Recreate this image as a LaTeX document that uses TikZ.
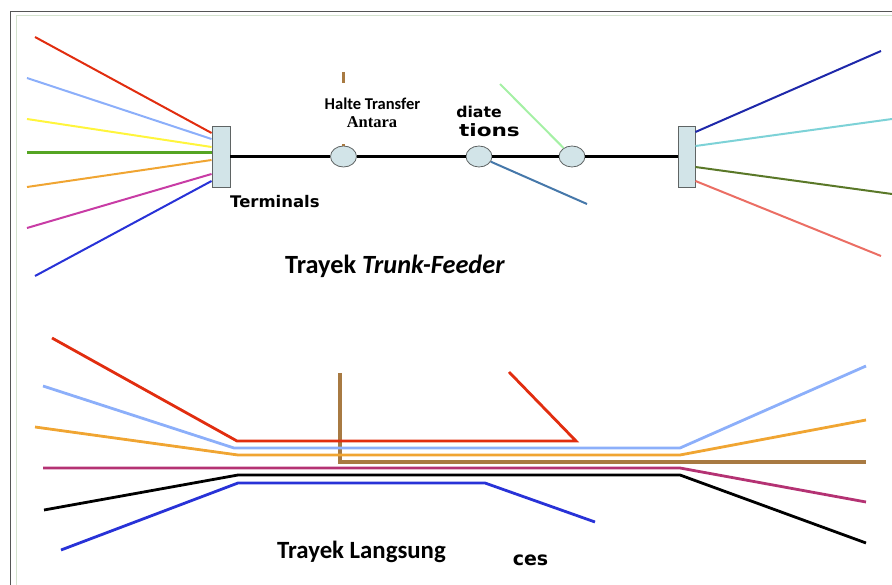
\documentclass[tikz,border=0pt]{standalone}
\usepackage{fontspec}
\usepackage{graphicx}
\setmainfont{Carlito}
\newfontfamily\dejav{DejaVu Sans}
\newfontfamily\serf{Liberation Serif}
\usetikzlibrary{shapes.geometric}
\definecolor{cRed}{RGB}{225,45,15}
\definecolor{cLBlue}{RGB}{140,175,250}
\definecolor{cYellow}{RGB}{255,245,60}
\definecolor{cGreen}{RGB}{85,165,35}
\definecolor{cOrange}{RGB}{240,165,50}
\definecolor{cMag}{RGB}{200,60,165}
\definecolor{cBlue}{RGB}{40,50,215}
\definecolor{cNavy}{RGB}{30,40,170}
\definecolor{cCyan}{RGB}{125,210,215}
\definecolor{cOlive}{RGB}{90,120,40}
\definecolor{cSalmon}{RGB}{235,110,100}
\definecolor{cLGreen}{RGB}{165,240,165}
\definecolor{cSteel}{RGB}{70,120,170}
\definecolor{colTan}{RGB}{168,122,66}
\definecolor{cWine}{RGB}{180,50,115}
\definecolor{cFill}{RGB}{210,228,232}
\definecolor{cEdge}{RGB}{95,100,100}
\definecolor{cFrame}{RGB}{85,85,85}
\definecolor{cFrameIn}{RGB}{212,226,206}
\begin{document}
\begin{tikzpicture}[x=1pt,y=-1pt,
  feeder/.style={line width=2pt},
  route/.style={line width=2.8pt, line join=miter},
  tanroute/.style={draw=colTan, line width=3.4pt, line join=miter},
  station/.style={ellipse, draw=cEdge, fill=cFill, line width=0.8pt, minimum width=26pt, minimum height=21pt, inner sep=0pt},
  terminal/.style={rectangle, draw=cEdge, fill=cFill, line width=0.9pt, minimum width=18pt, minimum height=61pt, inner sep=0pt},
  lbl/.style={inner sep=0pt}]
\useasboundingbox (0,0) rectangle (892,585);
% frame
\draw[cFrame, line width=1pt] (10.5,585) -- (10.5,12) -- (892,12);
\draw[cFrameIn, line width=1.3pt] (16.5,585) -- (16.5,15.5) -- (892,15.5);
% top: trunk-feeder
\node[terminal] (tL) at (221,156.5) {};
\node[terminal, minimum width=17pt] (tR) at (686.5,156.5) {};
\node[station] (s1) at (343.5,156.5) {};
\node[station] (s2) at (479,156.5) {};
\node[station] (s3) at (572,156.5) {};
\draw[line width=2.2pt] (tL.east) -- (s1) -- (s2) -- (s3) -- (tR.west);
% left feeders
\draw[feeder, cRed] (35,37) -- ([yshift=23.5pt]tL.west);
\draw[feeder, cLBlue] (27,78) -- ([yshift=17.5pt]tL.west);
\draw[feeder, cYellow] (27,119) -- ([yshift=9.5pt]tL.west);
\draw[feeder, cGreen, line width=3pt] (27,153) -- ([yshift=3.5pt]tL.west);
\draw[feeder, cOrange] (27,187) -- ([yshift=-3.5pt]tL.west);
\draw[feeder, cMag] (27,228) -- ([yshift=-17.5pt]tL.west);
\draw[feeder, cBlue] (35,276) -- ([yshift=-24.5pt]tL.west);
% right feeders
\draw[feeder, cNavy] ([yshift=24.5pt]tR.east) -- (881,51);
\draw[feeder, cCyan] ([yshift=10.5pt]tR.east) -- (892,119);
\draw[feeder, cOlive] ([yshift=-10.5pt]tR.east) -- (892,194);
\draw[feeder, cSalmon] ([yshift=-24.5pt]tR.east) -- (881,256);
% station feeders
\draw[feeder, cLGreen] (500,84) -- (s3);
\draw[feeder, cSteel] (s2) -- (587,204);
\draw[tanroute] (343.5,72) -- (s1.north);
% labels
\node[lbl, anchor=base east, font=\dejav\bfseries\fontsize{15}{17}\selectfont] (inter) at (502,117.3) {\scalebox{1.05}[1]{diate}};
\node[lbl, anchor=base east, font=\dejav\bfseries\fontsize{17}{19}\selectfont] (stat) at (520,136.7) {\scalebox{1.27}[1]{tions}};
\node[fill=white, minimum width=150pt, minimum height=61pt] (haltebox) at (376,113.5) {};
\node[lbl, anchor=base, font=\bfseries\fontsize{16.5}{18}\selectfont] (halteA) at (372.5,109.3) {Halte Transfer};
\node[lbl, anchor=base, font=\serf\bfseries\fontsize{16.5}{18}\selectfont] (halteB) at (372,128) {Antara};
\node[lbl, anchor=base west, font=\dejav\bfseries\fontsize{16}{18}\selectfont] (termlbl) at (230,207.7) {\scalebox{1.03}[1]{Terminals}};
\node[lbl, anchor=base west, font=\bfseries\fontsize{26.3}{29}\selectfont] (titleA) at (285,273.3) {Trayek \textit{Trunk-Feeder}};
% bottom: direct services
\draw[tanroute] (340,373) -- (340,462) -- (866,462);
\draw[route, cRed] (52,338) -- (237,441) -- (576,441) -- (509,372);
\draw[route, cLBlue] (43,386) -- (234,448) -- (680,448) -- (866,366);
\draw[route, cOrange] (35,427) -- (238,455) -- (680,455) -- (866,420);
\draw[route, cWine] (43,468) -- (680,468) -- (866,502);
\draw[route, black] (44,510) -- (238,475) -- (680,475) -- (866,543);
\draw[route, cBlue] (61,550) -- (238,483) -- (485,483) -- (595,522);
\node[lbl, anchor=base west, font=\bfseries\fontsize{24.8}{27}\selectfont] (titleB) at (277,558.3) {Trayek Langsung};
\node[lbl, anchor=base east, font=\dejav\bfseries\fontsize{19}{21}\selectfont] (ces) at (548.5,565.7) {ces};
\end{tikzpicture}
\end{document}
